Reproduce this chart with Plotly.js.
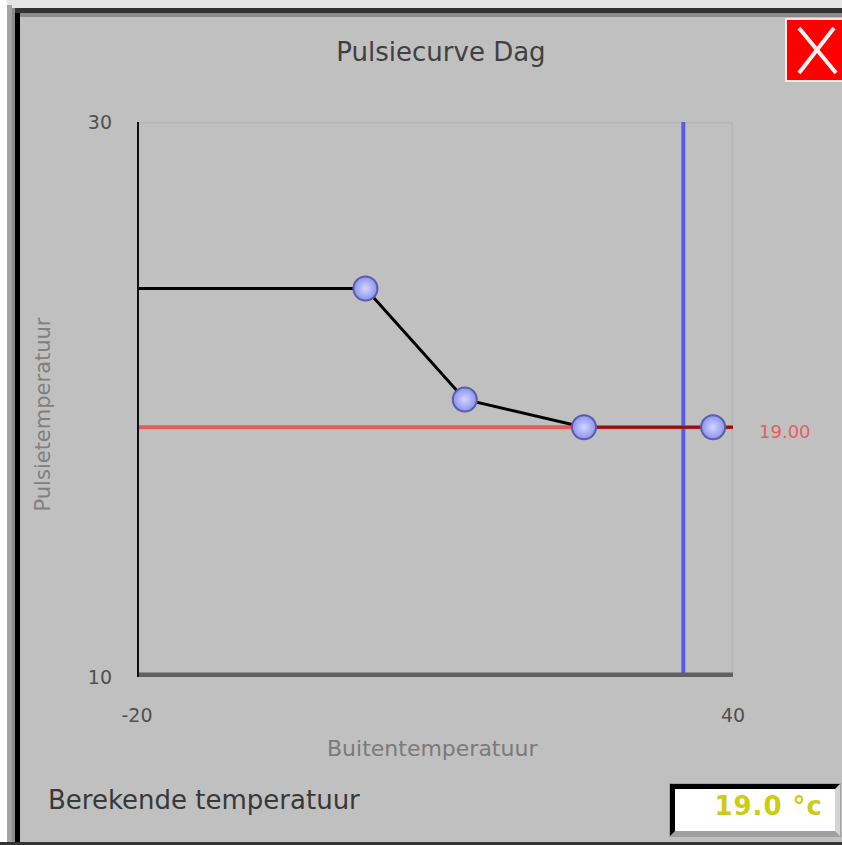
<!DOCTYPE html>
<html>
<head>
<meta charset="utf-8">
<script src="https://cdn.plot.ly/plotly-3.0.1.min.js"></script>
<style>
  html, body { margin: 0; padding: 0; background: #ffffff; }
  #wrap { position: relative; width: 842px; height: 845px; overflow: hidden; }
  #chart { position: absolute; left: 0; top: 0; width: 842px; height: 845px; }
  .frame { position: absolute; pointer-events: none; }
  #closeBtn { position: absolute; left: 785px; top: 18px; width: 57px; height: 64px;
    background: #ff0000; box-sizing: border-box; border: 2px solid #ffe4e4; border-right: none; }
  #valBox { position: absolute; left: 670px; top: 784px; width: 170px; height: 52px; box-sizing: border-box;
    background: #ffffff; border-top: 5px solid #000; border-left: 5px solid #000;
    border-right: 5px solid #d4d4d4; border-bottom: 5px solid #a0a0a0;
    outline: 1px solid #a0a0a0; }
  #valText { position: absolute; right: 12px; top: 2px; font-family: "DejaVu Sans", sans-serif;
    font-weight: bold; font-size: 26px; color: #cccc10; white-space: pre; letter-spacing: 1px; }
</style>
</head>
<body>
<div id="wrap">
  <div id="chart"></div>
  <!-- window frame -->
  <div class="frame" style="left:0;top:0;width:842px;height:8px;background:#e6e6e6;"></div>
  <div class="frame" style="left:7px;top:8px;width:835px;height:5px;background:#333333;"></div>
  <div class="frame" style="left:7px;top:13px;width:835px;height:4px;background:#8a8a8a;"></div>
  <div class="frame" style="left:0;top:0;width:7px;height:845px;background:#ffffff;"></div>
  <div class="frame" style="left:7px;top:5px;width:5px;height:840px;background:#a4a4a4;"></div>
  <div class="frame" style="left:12px;top:8px;width:3px;height:837px;background:#8c8c8c;"></div>
  <div class="frame" style="left:15px;top:13px;width:5px;height:832px;background:#000000;"></div>
  <div class="frame" style="left:0;top:842px;width:842px;height:3px;background:#333333;"></div>
  <div id="closeBtn">
    <svg width="55" height="60" style="position:absolute;left:0;top:0;">
      <line x1="12" y1="8" x2="49" y2="53" stroke="#fff2f2" stroke-width="4"/>
      <line x1="47" y1="8" x2="12" y2="53" stroke="#fff2f2" stroke-width="4"/>
    </svg>
  </div>
  <div id="valBox"><span id="valText"></span></div>
</div>
<script>
// ---- data ----
var xRange = [-20, 40];
var yRange = [10, 30];
var xTickVals = [-20, 40];
var yTickVals = [10, 30];
var curveX = [3, 13, 25, 38];
var curveY = [24, 20, 19, 19];
var setpoint = 19;
var outdoorTemp = 35;
var computedTemp = 19.0;
var chartTitle = "Pulsiecurve Dag";
var xTitle = "Buitentemperatuur";
var yTitle = "Pulsietemperatuur";
var bottomLabel = "Berekende temperatuur";

document.getElementById('valText').textContent = computedTemp.toFixed(1) + " \u00b0c";

var font = "DejaVu Sans, sans-serif";

var n = curveX.length;
var traces = [
  { // black curve part: from left edge flat, through points up to third
    x: [xRange[0]].concat(curveX.slice(0, n - 1)),
    y: [curveY[0]].concat(curveY.slice(0, n - 1)),
    mode: 'lines', line: { color: '#000000', width: 3 }, hoverinfo: 'skip'
  },
  { // dark red curve part on setpoint level
    x: curveX.slice(n - 2).concat([xRange[1]]),
    y: curveY.slice(n - 2).concat([curveY[n - 1]]),
    mode: 'lines', line: { color: '#8e1212', width: 3 }, hoverinfo: 'skip'
  },
  { // handles
    x: curveX, y: curveY, mode: 'markers',
    marker: { size: 24, color: '#8c92ee', line: { color: '#5c5ca8', width: 2 },
      gradient: { type: 'radial', color: '#d2d6ff' } },
    hoverinfo: 'skip'
  }
];

var layout = {
  width: 842, height: 845,
  margin: { l: 137, r: 109, t: 122, b: 168, pad: 0 },
  paper_bgcolor: '#c0c0c0', plot_bgcolor: '#c0c0c0',
  showlegend: false,
  title: { text: chartTitle, x: 441 / 842, xanchor: 'center', xref: 'container',
    y: 1 - 52 / 845, yanchor: 'middle', yref: 'container',
    font: { family: font, size: 26, color: '#404040' } },
  xaxis: { range: xRange, tickvals: xTickVals, ticktext: xTickVals.map(String),
    showgrid: false, zeroline: false, showline: false, ticks: '',
    ticklabelstandoff: 25, tickfont: { family: font, size: 19, color: '#505050' }, fixedrange: true },
  yaxis: { range: yRange, tickvals: yTickVals, ticktext: yTickVals.map(String),
    showgrid: false, zeroline: false, showline: false, ticks: '',
    ticklabelstandoff: 24, tickfont: { family: font, size: 19, color: '#505050' }, fixedrange: true },
  shapes: [
    // faint top & right plot border
    { type: 'line', xref: 'x', yref: 'y', x0: xRange[0], x1: xRange[1], y0: yRange[1], y1: yRange[1],
      line: { color: '#b6b6b6', width: 3 }, layer: 'below' },
    { type: 'line', xref: 'x', yref: 'y', x0: xRange[1], x1: xRange[1], y0: yRange[0], y1: yRange[1],
      line: { color: '#b6b6b6', width: 3 }, layer: 'below' },
    // setpoint line
    { type: 'line', xref: 'x', yref: 'y', x0: xRange[0], x1: xRange[1], y0: setpoint, y1: setpoint,
      line: { color: '#e25c5c', width: 4 }, layer: 'below' },
    // current outdoor temperature
    { type: 'line', xref: 'x', yref: 'y', x0: outdoorTemp, x1: outdoorTemp, y0: yRange[0], y1: yRange[1],
      line: { color: '#5a5ae6', width: 4 }, layer: 'below' },
    // bottom axis line
    { type: 'line', xref: 'x', yref: 'y', x0: xRange[0], x1: xRange[1], y0: yRange[0], y1: yRange[0],
      line: { color: '#606060', width: 9 } },
    // left axis line (gray shade + black)
    { type: 'rect', xref: 'x', yref: 'y', xsizemode: 'pixel', xanchor: xRange[0], x0: -6, x1: -1,
      y0: yRange[0], y1: yRange[1], fillcolor: '#a8a8a8', line: { width: 0 } },
    { type: 'line', xref: 'x', yref: 'y', x0: xRange[0], x1: xRange[0], y0: yRange[0], y1: yRange[1],
      line: { color: '#111111', width: 4 } }
  ],
  annotations: [
    { text: yTitle, xref: 'paper', x: 0, xshift: -95, xanchor: 'center',
      yref: 'paper', y: 0.5, yshift: -15, yanchor: 'middle', textangle: -90, showarrow: false,
      font: { family: font, size: 21, color: '#808080' } },
    { text: xTitle, xref: 'paper', x: 0.5, xshift: -3, xanchor: 'center',
      yref: 'paper', y: 0, yshift: -71, yanchor: 'middle', showarrow: false,
      font: { family: font, size: 22, color: '#7a7a7a' } },
    { text: setpoint.toFixed(2), xref: 'paper', x: 1, xshift: 24, xanchor: 'left',
      yref: 'y', y: setpoint, yshift: -4, yanchor: 'middle', showarrow: false,
      font: { family: font, size: 18, color: '#e06060' } },
    { text: bottomLabel, xref: 'paper', x: 0, xshift: -91, xanchor: 'left',
      yref: 'paper', y: 0, yshift: -123, yanchor: 'middle', showarrow: false,
      font: { family: font, size: 26, color: '#383838' } }
  ]
};

Plotly.newPlot('chart', traces, layout, { displayModeBar: false, staticPlot: true });
</script>
</body>
</html>
